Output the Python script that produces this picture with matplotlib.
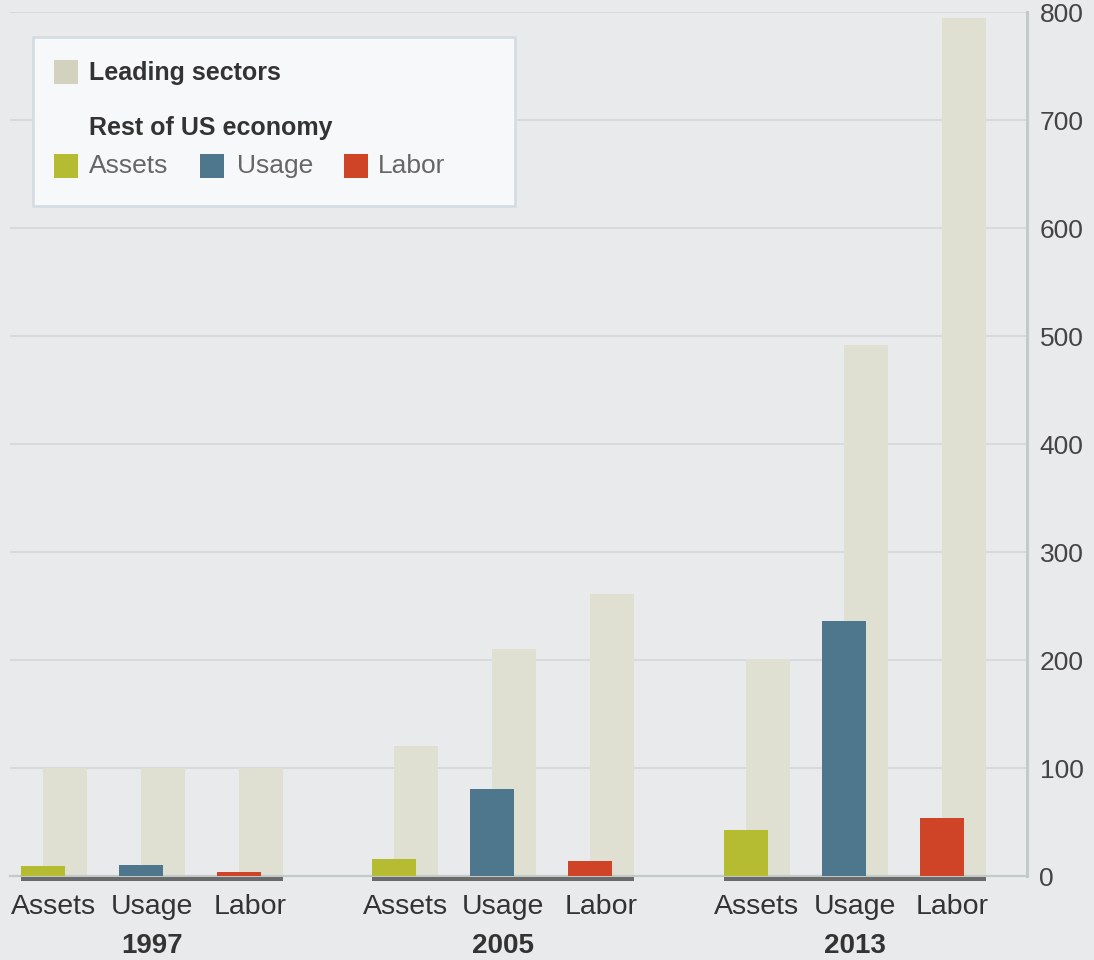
import numpy as np
import matplotlib
matplotlib.use('Agg')
import matplotlib.pyplot as plt
from matplotlib import transforms
from matplotlib.patches import Rectangle

plt.rcParams['font.family'] = ['Liberation Sans', 'DejaVu Sans']

# data
years = ['1997', '2005', '2013']
categories = ['Assets', 'Usage', 'Labor']
leading = [[100, 100, 100],
           [120, 210, 261],
           [201, 492, 794]]
rest = [[9, 10, 4],
        [16, 81, 14],
        [43, 236, 54]]
yticks = [0, 100, 200, 300, 400, 500, 600, 700, 800]

bg = '#e9eaec'
lead_col = '#dfe0d2'
cat_cols = ['#b5bc31', '#4e768c', '#cf4327']

W, H = 1094, 960
fig = plt.figure(figsize=(W / 100, H / 100), dpi=100, facecolor=bg)
ax = fig.add_axes([10 / W, 84 / H, 1017 / W, 864 / H], facecolor=bg)

group_step = 3.585
bw = 0.449
off = 0.112

for g, yr in enumerate(years):
    xs = g * group_step + np.arange(len(categories))
    ax.bar(xs + off, leading[g], width=bw, color=lead_col, zorder=2)
    ax.bar(xs - off, rest[g], width=bw, color=cat_cols, zorder=3)
    # dark baseline under each group
    tr = transforms.offset_copy(ax.transData, fig, y=-2.5, units='dots')
    ax.plot([xs[0] - off - bw / 2, xs[-1] + off + bw / 2], [0, 0], color='#6b6b6b',
            lw=2.9, solid_capstyle='butt', transform=tr, zorder=5, clip_on=False)
    ax.text(xs.mean(), -0.0805, yr, transform=ax.get_xaxis_transform(), ha='center',
            va='center', fontsize=20, fontweight='bold', color='#333333')

tick_x = np.concatenate([g * group_step + np.arange(len(categories)) for g in range(len(years))])
ax.set_xticks(tick_x)
ax.set_xticklabels(categories * len(years), fontsize=20.5, color='#333333')
ax.tick_params(axis='x', length=0, pad=13)

ax.set_xlim(-0.449, 9.93)
ax.set_ylim(0, 800)
ax.set_yticks(yticks)
ax.yaxis.tick_right()
ax.tick_params(axis='y', length=0, pad=9, labelsize=19, labelcolor='#444444')
ax.grid(axis='y', color='#d6d8db', lw=1.3, zorder=0)
ax.set_axisbelow(True)

for s in ['top', 'left']:
    ax.spines[s].set_visible(False)
ax.spines['right'].set_color('#c3cbca')
ax.spines['right'].set_linewidth(2.2)
ax.spines['bottom'].set_color('#c3cbca')
ax.spines['bottom'].set_linewidth(1.6)


# legend drawn by hand in pixel coordinates
def fx(px):
    return px / W


def fy(py):
    return 1 - py / H


box = Rectangle((fx(33), fy(206)), fx(482), 169 / H, transform=fig.transFigure,
                facecolor='#f7f8fa', edgecolor='#d3dce1', lw=1.8, zorder=10)
fig.patches.append(box)


def swatch(x, y, color):
    fig.patches.append(Rectangle((fx(x), fy(y + 24)), 24 / W, 24 / H, transform=fig.transFigure,
                                 facecolor=color, edgecolor='none', zorder=11))


swatch(54, 60, '#d3d1bf')
fig.text(fx(89), fy(73), 'Leading sectors', fontsize=18, fontweight='bold', color='#333333',
         va='center', ha='left', zorder=12)
fig.text(fx(89), fy(128), 'Rest of US economy', fontsize=18, fontweight='bold', color='#333333',
         va='center', ha='left', zorder=12)
for name, col, sx, tx in zip(categories, cat_cols, [54, 200, 344], [89, 237, 378]):
    swatch(sx, 154, col)
    fig.text(fx(tx), fy(166), name, fontsize=19, color='#666666', va='center', ha='left', zorder=12)

fig.savefig('out.png', dpi=100, facecolor=bg)
